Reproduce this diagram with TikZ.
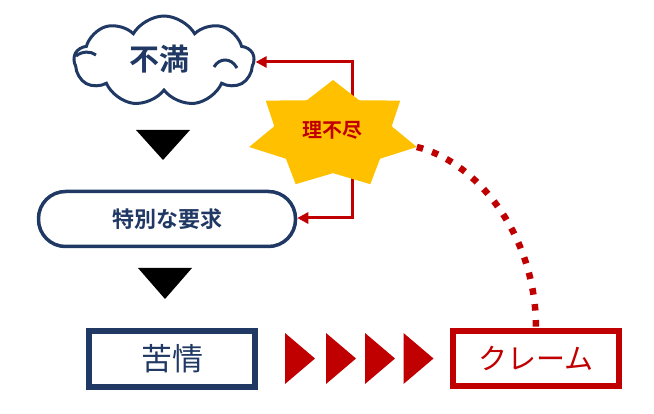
\documentclass[tikz,border=0pt]{standalone}
\usepackage{fontspec}
\newfontfamily\jp{Noto Sans CJK JP}
\newfontfamily\jpb{Noto Sans CJK JP Bold}
\usetikzlibrary{shapes.symbols,arrows.meta}
\definecolor{navy}{HTML}{203864}
\definecolor{dred}{HTML}{C00000}
\definecolor{gold}{HTML}{FFC000}
\tikzset{
  cloudbox/.style={cloud, cloud puffs=9, cloud puff arc=120, cloud ignores aspect, draw=navy, line width=3pt, fill=white, minimum width=180pt, minimum height=90pt, inner sep=0pt},
  curl/.style={draw=navy, line width=3pt},
  reqbox/.style={draw=navy, line width=3.5pt, rounded corners=27pt, minimum width=257pt, minimum height=55pt, inner sep=0pt, fill=white},
  navybox/.style={draw=navy, line width=6pt, minimum width=166pt, minimum height=56pt, inner sep=0pt},
  redbox/.style={draw=dred, line width=6pt, minimum width=166pt, minimum height=55pt, inner sep=0pt},
  conn/.style={draw=dred, line width=3pt, {Triangle[length=11pt,width=11pt]}-{Triangle[length=11pt,width=11pt]}},
  dotline/.style={draw=dred, line width=6.5pt, dash pattern=on 6.5pt off 9.5pt},
  downtri/.style={fill=black},
  redtri/.style={fill=dred},
}
\begin{document}
\begin{tikzpicture}[x=1pt,y=-1pt]
\useasboundingbox (0,0) rectangle (654,414);
% nodes
\node[cloudbox] (cloud) at (164,61) {};
\draw[curl] (214,67) .. controls (219,58) and (231,57) .. (237,68);
\draw[curl] (76,56) .. controls (82,51) and (91,51) .. (96,55);
\node[text=navy, font=\jpb\fontsize{30}{32}\selectfont] (cloudtxt) at (159,59) {不満};
\node[reqbox] (req) at (167,219) {};
\node[text=navy, font=\jpb\fontsize{22}{24}\selectfont] (reqtxt) at (167,219) {特別な要求};
\node[navybox, text=navy, font=\jp\fontsize{31}{33}\selectfont] (kujo) at (172,359) {苦情};
\node[redbox, text=dred, font=\jp\fontsize{29}{31}\selectfont] (claim) at (536,358.5) {クレーム};
% down triangles
\fill[downtri] (136,130) -- (190,130) -- (163,160) -- cycle;
\fill[downtri] (138,268) -- (192,268) -- (165,299) -- cycle;
% right triangles
\foreach \dx in {0,41,80,118.5}{
  \fill[redtri] (285+\dx,333) -- (315+\dx,358.5) -- (285+\dx,384) -- cycle;
}
% connector
\coordinate (b1) at (352,62);
\coordinate (b2) at (352,218);
\draw[conn] (b1 -| cloud.east) -- (b1) -- (b2) -- (b2 -| req.east);
% star
\fill[gold] plot[samples at={0,...,13}, variable=\i] ({333+(mod(\i,2)==0?1:0.7)*86*cos(90-\i*180/7)}, {134.8-(mod(\i,2)==0?1:0.7)*54.8*sin(90-\i*180/7)}) -- cycle;
\coordinate (starR) at ({333+86*cos(90-4*180/7)}, {134.8-54.8*sin(90-4*180/7)});
\node[text=dred, font=\jpb\fontsize{20}{22}\selectfont] (star) at (332,130) {理不尽};
% dotted curve
\draw[dotline] (starR) .. controls (475,161) and (536,233) .. (claim.north);
\end{tikzpicture}
\end{document}
